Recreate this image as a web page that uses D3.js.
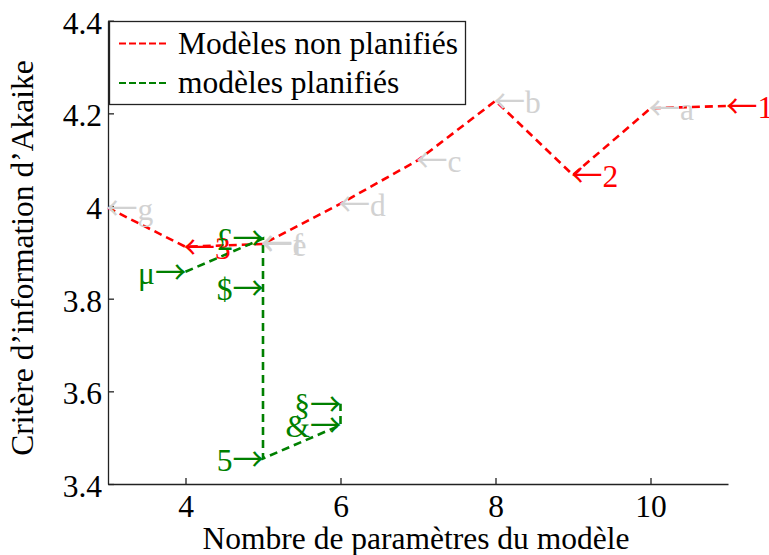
<!DOCTYPE html>
<html>
<head>
<meta charset="utf-8">
<script src="https://cdn.jsdelivr.net/npm/d3@7"></script>
<style>
  html, body { margin: 0; padding: 0; background: #fff; }
  svg { display: block; }
</style>
</head>
<body>
<svg id="chart" width="769" height="555"></svg>
<script>
// ---- data ----
const xRed      = [3, 4, 5, 6, 7, 8, 9, 10, 11];
const aicRed    = [3.996, 3.912, 3.918, 4.005, 4.099, 4.227, 4.067, 4.211, 4.216];
const tagsRed   = ['g', '3', 'e', 'd', 'c', 'b', '2', 'a', '1'];

const xExtra    = [5];
const aicExtra  = [3.921];
const tagsExtra = ['f'];

const xGreen    = [4, 5, 5, 5, 6, 6];
const aicGreen  = [3.858, 3.930, 3.824, 3.455, 3.527, 3.573];
const tagsGreen = ['μ', '£', '$', '5', '&', '§'];

const seriesNames = ['Modèles non planifiés', 'modèles planifiés'];
const xTicks = [4, 6, 8, 10];
const xTickLabels = ['4', '6', '8', '10'];
const yTicks = [3.4, 3.6, 3.8, 4.0, 4.2, 4.4];
const yTickLabels = ['3.4', '3.6', '3.8', '4', '4.2', '4.4'];
const xTitle = 'Nombre de paramètres du modèle';
const yTitle = 'Critère d’information d’Akaike';

// ---- layout ----
const RED = '#ff0000', GREEN = '#008000', GRAY = '#d2d2d2';
const SERIF = '"Liberation Serif", "Times New Roman", "DejaVu Serif", serif';
const ARROWF = '"Noto Sans CJK JP", "DejaVu Sans", sans-serif';
const FS = 31.5;
const svg = d3.select('#chart');
const x = d3.scaleLinear().domain([3, 11]).range([108, 728]);
const y = d3.scaleLinear().domain([3.4, 4.4]).range([484, 20.7]);

// axes (left and bottom only, ticks inward)
const xAxis = d3.axisBottom(x).tickValues(xTicks).tickSizeInner(-6).tickSizeOuter(0)
  .tickFormat((d, i) => xTickLabels[i]);
const yAxis = d3.axisLeft(y).tickValues(yTicks).tickSizeInner(-6).tickSizeOuter(0)
  .tickFormat((d, i) => yTickLabels[i]);

const gx = svg.append('g').attr('transform', `translate(0,${y(3.4)})`).call(xAxis);
const gy = svg.append('g').attr('transform', `translate(${x(3)},0)`).call(yAxis);
[gx, gy].forEach(g => {
  g.attr('font-family', null).attr('font-size', null);
  g.select('.domain').attr('stroke', '#222').attr('stroke-width', 1.3);
  g.selectAll('.tick line').attr('stroke', '#222').attr('stroke-width', 1.3);
  g.selectAll('.tick text').attr('fill', '#000')
    .style('font-family', SERIF).style('font-size', FS + 'px');
});
gx.selectAll('.tick text').attr('y', 0).attr('dy', 0).attr('transform', 'translate(0,33)');
gy.selectAll('.tick text').attr('x', -6).attr('dy', 0).attr('transform', 'translate(0,12.6)');

// axis titles
svg.append('text').attr('x', 416).attr('y', 549).attr('text-anchor', 'middle')
  .style('font-family', SERIF).style('font-size', FS + 'px').attr('fill', '#000').text(xTitle);
svg.append('text').attr('transform', `translate(33,258) rotate(-90)`).attr('text-anchor', 'middle')
  .style('font-family', SERIF).style('font-size', FS + 'px').attr('fill', '#000').text(yTitle);

// lines
const line = d3.line().x(d => x(d[0])).y(d => y(d[1]));
const redPts = xRed.map((v, i) => [v, aicRed[i]]);
const greenPts = xGreen.map((v, i) => [v, aicGreen[i]]);

svg.append('path').datum(redPts).attr('d', line).attr('fill', 'none')
  .attr('stroke', RED).attr('stroke-width', 2.6).attr('stroke-dasharray', '8,5');
svg.append('path').datum(greenPts).attr('d', line).attr('fill', 'none')
  .attr('stroke', GREEN).attr('stroke-width', 2.6).attr('stroke-dasharray', '8,5');

// annotations
const LABEL_DY = 12;
const leftTags = xRed.map((v, i) => ({ x: v, v: aicRed[i], t: tagsRed[i] }))
  .concat(xExtra.map((v, i) => ({ x: v, v: aicExtra[i], t: tagsExtra[i] })));
const lt = svg.append('g').selectAll('text').data(leftTags).join('text')
  .attr('x', d => x(d.x) - 2).attr('y', d => y(d.v) + LABEL_DY)
  .style('font-size', FS + 'px')
  .attr('fill', d => /[0-9]/.test(d.t) ? RED : GRAY);
lt.append('tspan').style('font-family', ARROWF).text('←');
lt.append('tspan').style('font-family', SERIF).text(d => d.t);

const rightTags = xGreen.map((v, i) => ({ x: v, v: aicGreen[i], t: tagsGreen[i] }));
const rt = svg.append('g').selectAll('text').data(rightTags).join('text')
  .attr('x', d => x(d.x) + 1).attr('y', d => y(d.v) + LABEL_DY)
  .attr('text-anchor', 'end')
  .style('font-size', FS + 'px').attr('fill', GREEN);
rt.append('tspan').style('font-family', SERIF).text(d => d.t);
rt.append('tspan').style('font-family', ARROWF).text('→');

// legend
const lg = svg.append('g');
lg.append('rect').attr('x', 109.5).attr('y', 21.5).attr('width', 356).attr('height', 83)
  .attr('fill', '#fff').attr('stroke', '#222').attr('stroke-width', 1.3);
[RED, GREEN].forEach((c, i) => {
  const ly = 43.5 + i * 39.5;
  lg.append('line').attr('x1', 119).attr('x2', 169).attr('y1', ly).attr('y2', ly)
    .attr('stroke', c).attr('stroke-width', 2.2).attr('stroke-dasharray', '7,3');
  lg.append('text').attr('x', 178).attr('y', ly + 10)
    .style('font-family', SERIF).style('font-size', FS + 'px')
    .attr('fill', '#000').text(seriesNames[i]);
});
</script>
</body>
</html>
